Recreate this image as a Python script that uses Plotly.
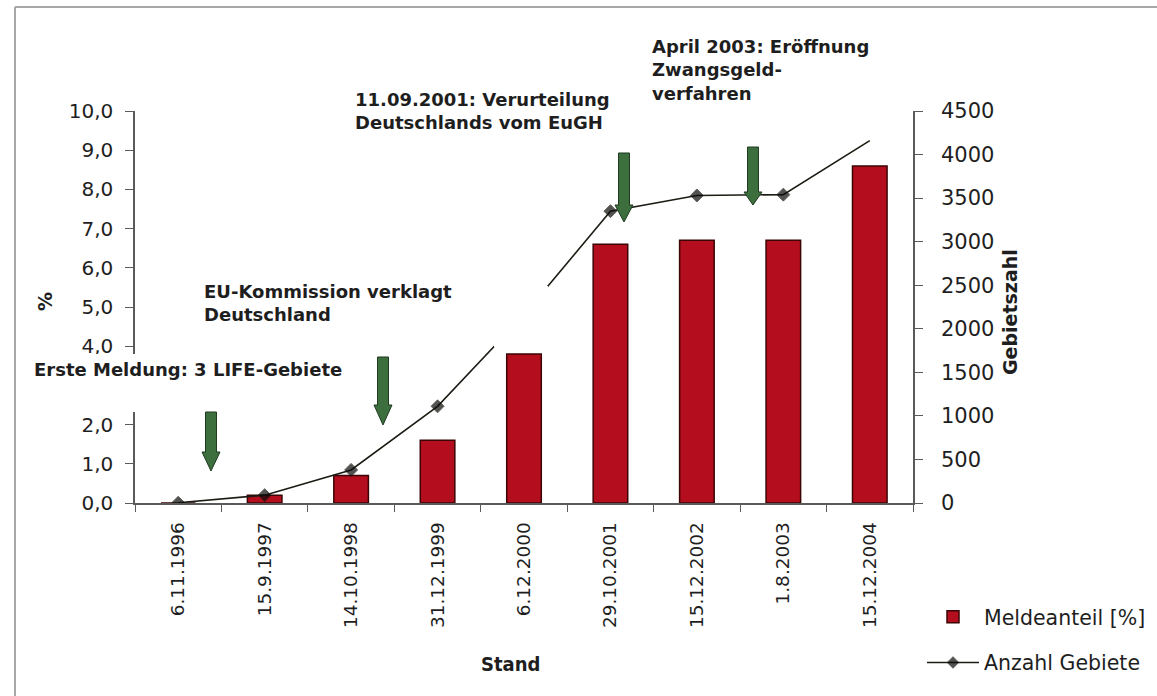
import plotly.graph_objects as go

# ---------------- data ----------------
categories = ["6.11.1996", "15.9.1997", "14.10.1998", "31.12.1999", "6.12.2000",
              "29.10.2001", "15.12.2002", "1.8.2003", "15.12.2004"]
meldeanteil = [0.0, 0.2, 0.7, 1.6, 3.8, 6.6, 6.7, 6.7, 8.6]          # % (bars, left axis)
anzahl_gebiete = [3, 90, 380, 1110, 2160, 3350, 3530, 3540, 4160]    # number of sites (line, right axis)
left_tick_vals = [0, 1, 2, 4, 5, 6, 7, 8, 9, 10]                      # "3,0" is lost in the scan
right_tick_vals = [0, 500, 1000, 1500, 2000, 2500, 3000, 3500, 4000, 4500]

# ---------------- geometry helpers (pixel -> paper) ----------------
W, H = 1157, 696
L, R, T, B = 135, 913, 111, 503


def px(x):
    return (x - L) / (R - L)


def py(y):
    return (B - y) / (B - T)


FONT = "DejaVu Sans, Arial, sans-serif"
BOLD = "DejaVu Sans, Arial, sans-serif"
TXT = "#1e1e1e"
AX = "#5a5a5a"

fig = go.Figure()
fig.add_trace(go.Bar(
    x=categories, y=meldeanteil, name="Meldeanteil [%]", width=0.4,
    marker=dict(color="#b30d1e", line=dict(color="#3b0505", width=1.5)),
    legendgroup="a",
))
fig.add_trace(go.Scatter(
    x=categories, y=anzahl_gebiete, yaxis="y2", name="Anzahl Gebiete",
    mode="lines+markers",
    line=dict(color="#1c1c14", width=1.6),
    marker=dict(symbol="diamond", size=[10] * 8 + [0], color="#0a0a0a"),
    legendgroup="b",
))

shapes = []
# page frame of the scan (top and left edges)
shapes.append(dict(type="line", xref="paper", yref="paper",
                   x0=px(15), x1=px(1157), y0=py(7), y1=py(7),
                   line=dict(color="#a8a8a8", width=2), layer="below"))
shapes.append(dict(type="line", xref="paper", yref="paper",
                   x0=px(15), x1=px(15), y0=py(7), y1=py(696),
                   line=dict(color="#a8a8a8", width=2), layer="below"))
# white patches that hide parts of the scan
for (x0, y0, x1, y1) in [(60, 354, 141, 412), (494, 286, 548, 347)]:
    shapes.append(dict(type="rect", xref="paper", yref="paper",
                       x0=px(x0), x1=px(x1), y0=py(y1), y1=py(y0),
                       line=dict(width=0), fillcolor="white", layer="above"))

# green block arrows (centre x, top y, head start y, tip y) in pixels
arrows = [(211, 412, 452, 471), (383, 357, 405, 425), (624, 153, 205, 222), (753, 147, 192, 205)]
sw, hw = 5.5, 9
for cx, yt, yh, yb in arrows:
    pts = [(cx - sw, yt), (cx + sw, yt), (cx + sw, yh), (cx + hw, yh), (cx, yb),
           (cx - hw, yh), (cx - sw, yh)]
    path = "M " + " L ".join(f"{px(a):.5f},{py(b):.5f}" for a, b in pts) + " Z"
    shapes.append(dict(type="path", xref="paper", yref="paper", path=path,
                       fillcolor="#3d6e3e", line=dict(color="#1f3b20", width=1),
                       layer="above"))

annotations = []
events = [
    ("April 2003: Eröffnung<br>Zwangsgeld-<br>verfahren", 650, 34),
    ("11.09.2001: Verurteilung<br>Deutschlands vom EuGH", 353, 87),
    ("EU-Kommission verklagt<br>Deutschland", 202, 279),
    ("Erste Meldung: 3 LIFE-Gebiete", 32, 357),
]
for text, x, y in events:
    annotations.append(dict(text=text, x=px(x), y=py(y), xref="paper", yref="paper",
                            xanchor="left", yanchor="top", align="left", showarrow=False,
                            font=dict(family=BOLD, size=18, color=TXT, weight="bold")))
# axis titles
annotations.append(dict(text="%", x=px(45), y=py(302), xref="paper", yref="paper",
                        xanchor="center", yanchor="middle",
                        textangle=-90, showarrow=False,
                        font=dict(family=BOLD, size=19, color=TXT, weight="bold")))
annotations.append(dict(text="Gebietszahl", x=px(1010), y=py(312), xref="paper", yref="paper",
                        xanchor="center", yanchor="middle",
                        textangle=-90, showarrow=False,
                        font=dict(family=BOLD, size=19, color=TXT, weight="bold")))
annotations.append(dict(text="Stand", x=px(510), y=py(664), xref="paper", yref="paper",
                        xanchor="center", yanchor="middle", showarrow=False,
                        font=dict(family="Liberation Sans Narrow, DejaVu Sans Condensed, Arial Narrow, sans-serif",
                                  size=20, color=TXT, weight="bold")))

fig.update_layout(
    width=W, height=H, autosize=False,
    margin=dict(l=L, r=W - R, t=T, b=H - B, pad=0, autoexpand=False),
    paper_bgcolor="white", plot_bgcolor="white",
    separators=",.",
    showlegend=True,
    legend=dict(x=px(922), y=py(597), xanchor="left", yanchor="top",
                traceorder="grouped", tracegroupgap=16, itemwidth=52,
                font=dict(family=FONT, size=20.5, color=TXT),
                bgcolor="rgba(0,0,0,0)"),
    xaxis=dict(type="category", range=[-0.5, 8.5], tickson="boundaries", automargin=False,
               ticks="outside", ticklen=7, tickcolor=AX, tickwidth=1.2,
               showline=True, linecolor=AX, linewidth=1.5, showgrid=False,
               tickangle=-90, ticklabelstandoff=10,
               tickfont=dict(family=FONT, size=18.5, color=TXT)),
    yaxis=dict(range=[0, 10], tickmode="array", tickvals=left_tick_vals, tickformat=".1f",
               automargin=False,
               ticks="outside", ticklen=8, tickcolor=AX, tickwidth=1.2,
               showline=True, linecolor=AX, linewidth=1.5, showgrid=False, zeroline=False,
               ticklabelstandoff=8,
               tickfont=dict(family=FONT, size=20, color=TXT)),
    yaxis2=dict(range=[0, 4500], overlaying="y", side="right", tickmode="array",
                tickvals=right_tick_vals, tickformat="d", automargin=False,
                ticks="outside", ticklen=8, tickcolor=AX, tickwidth=1.2,
                showline=True, linecolor=AX, linewidth=1.5, showgrid=False, zeroline=False,
                ticklabelstandoff=14,
                tickfont=dict(family=FONT, size=21, color=TXT)),
    shapes=shapes,
    annotations=annotations,
)

# remove the browser's default 8px page margin so the figure fills the window exactly
fig.write_html("out.html", config={"displayModeBar": False},
               post_script="document.body.style.margin='0';document.body.style.overflow='hidden';")
